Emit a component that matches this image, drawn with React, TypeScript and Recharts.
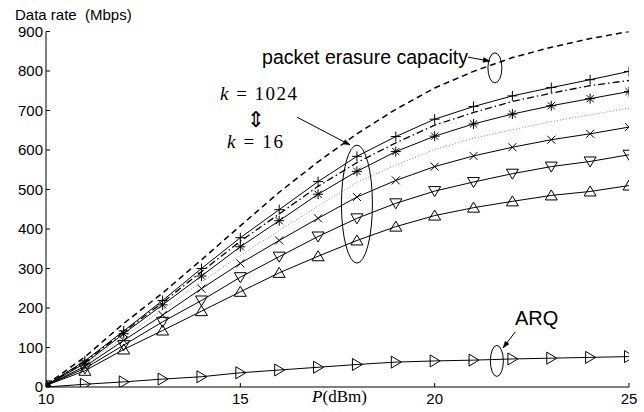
import React from "react";
import { LineChart, Line, XAxis, YAxis, ReferenceDot, ReferenceLine } from "recharts";

// ---- data ----
const powerDbm = [10, 11, 12, 13, 14, 15, 16, 17, 18, 19, 20, 21, 22, 23, 24, 25];
const capacity = [5, 76, 161, 238, 322, 408, 493, 570, 641, 703, 757, 799, 834, 860, 882, 900];
const k1024 = [4, 66, 142, 219, 300, 378, 449, 520, 584, 634, 678, 710, 737, 758, 778, 799];
const kDashDot = [4, 64, 139, 214, 292, 369, 438, 508, 568, 618, 663, 695, 723, 744, 763, 776];
const kStar = [4, 60, 135, 208, 281, 355, 421, 488, 546, 596, 635, 666, 691, 712, 730, 748];
const kDotted = [4, 56, 127, 196, 266, 333, 396, 458, 518, 562, 601, 630, 651, 672, 689, 706];
const kCross = [4, 52, 118, 182, 249, 313, 371, 427, 481, 523, 558, 585, 607, 626, 641, 658];
const kDown = [4, 47, 106, 165, 219, 278, 330, 381, 427, 465, 496, 519, 540, 558, 571, 588];
const k16 = [4, 41, 95, 143, 192, 241, 289, 331, 371, 406, 434, 454, 470, 485, 495, 510];
const arq = [0, 7, 13, 20, 26, 36, 43, 50, 57, 63, 66, 68, 71, 73, 75, 77];

const xTicks = [10, 15, 20, 25];
const yTicks = [0, 100, 200, 300, 400, 500, 600, 700, 800, 900];

// annotation anchors (data coordinates)
const capEllipse = { x: 21.55, y: 808 };
const kEllipse = { x: 18.0, y: 463 };
const arqEllipse = { x: 21.6, y: 66 };
const capArrow = [{ x: 20.86, y: 835 }, { x: 21.42, y: 825 }];
const kArrow = [{ x: 16.46, y: 683 }, { x: 17.82, y: 613 }];
const arqArrow = [{ x: 22.07, y: 139 }, { x: 21.76, y: 99 }];

const rows = powerDbm.map((x, i) => ({
  x,
  capacity: capacity[i],
  k1024: k1024[i],
  kDashDot: kDashDot[i],
  kStar: kStar[i],
  kDotted: kDotted[i],
  kCross: kCross[i],
  kDown: kDown[i],
  k16: k16[i],
  arq: arq[i],
}));

const S = "#000";

const plusDot = (p: any) => (
  <g key={`p${p.index}`} stroke={S} strokeWidth={1}>
    <line x1={p.cx - 5} y1={p.cy} x2={p.cx + 5} y2={p.cy} />
    <line x1={p.cx} y1={p.cy - 5} x2={p.cx} y2={p.cy + 5} />
  </g>
);
const starDot = (p: any) => (
  <g key={`s${p.index}`} stroke={S} strokeWidth={1}>
    <line x1={p.cx - 5} y1={p.cy} x2={p.cx + 5} y2={p.cy} />
    <line x1={p.cx} y1={p.cy - 5} x2={p.cx} y2={p.cy + 5} />
    <line x1={p.cx - 3.6} y1={p.cy - 3.6} x2={p.cx + 3.6} y2={p.cy + 3.6} />
    <line x1={p.cx - 3.6} y1={p.cy + 3.6} x2={p.cx + 3.6} y2={p.cy - 3.6} />
  </g>
);
const crossDot = (p: any) => (
  <g key={`c${p.index}`} stroke={S} strokeWidth={1}>
    <line x1={p.cx - 4} y1={p.cy - 4} x2={p.cx + 4} y2={p.cy + 4} />
    <line x1={p.cx - 4} y1={p.cy + 4} x2={p.cx + 4} y2={p.cy - 4} />
  </g>
);
const downDot = (p: any) => (
  <polygon
    key={`d${p.index}`}
    points={`${p.cx - 6},${p.cy - 4.5} ${p.cx + 6},${p.cy - 4.5} ${p.cx},${p.cy + 5.5}`}
    fill="none"
    stroke={S}
    strokeWidth={1}
  />
);
const upDot = (p: any) => (
  <polygon
    key={`u${p.index}`}
    points={`${p.cx - 6},${p.cy + 4.5} ${p.cx + 6},${p.cy + 4.5} ${p.cx},${p.cy - 5.5}`}
    fill="none"
    stroke={S}
    strokeWidth={1}
  />
);
const rightDot = (p: any) => (
  <polygon
    key={`r${p.index}`}
    points={`${p.cx - 4.5},${p.cy - 6} ${p.cx - 4.5},${p.cy + 6} ${p.cx + 5.5},${p.cy}`}
    fill="none"
    stroke={S}
    strokeWidth={1}
  />
);

const ellipseShape = (rx: number, ry: number) => (p: any) =>
  <ellipse cx={p.cx} cy={p.cy} rx={rx} ry={ry} fill="none" stroke={S} strokeWidth={1} />;

const arrowShape = (p: any) => {
  const { x1, y1, x2, y2 } = p;
  const a = Math.atan2(y2 - y1, x2 - x1);
  const L = 7;
  const w = 0.35;
  const ax = x2 - L * Math.cos(a - w);
  const ay = y2 - L * Math.sin(a - w);
  const bx = x2 - L * Math.cos(a + w);
  const by = y2 - L * Math.sin(a + w);
  return (
    <g>
      <line x1={x1} y1={y1} x2={x2} y2={y2} stroke={S} strokeWidth={1} />
      <polygon points={`${x2},${y2} ${ax},${ay} ${bx},${by}`} fill={S} stroke={S} strokeWidth={0.5} />
    </g>
  );
};

const sans = "'Liberation Sans', Arial, Helvetica, sans-serif";
const serif = "'Liberation Serif', 'Times New Roman', serif";

const XLabel = (props: any) => {
  const vb = props.viewBox || {};
  const cx = vb.x + vb.width / 2;
  return (
    <text x={cx + 2} y={402} textAnchor="middle" fontFamily={serif} fontSize={17} fill={S}>
      <tspan fontStyle="italic">P</tspan>
      <tspan>(dBm)</tspan>
    </text>
  );
};

export default function App() {
  return (
    <div style={{ position: "absolute", left: 0, top: 0, width: 644, height: 412, background: "#fff" }}>
      <LineChart
        width={644}
        height={412}
        data={rows}
        margin={{ top: 31.5, right: 15, bottom: 0, left: 0 }}
      >
        <XAxis
          dataKey="x"
          type="number"
          domain={[10, 25]}
          ticks={xTicks}
          height={25}
          tickSize={-4}
          tickMargin={10}
          stroke={S}
          axisLine={{ stroke: S }}
          tickLine={{ stroke: S }}
          tick={{ fill: S, fontSize: 15, fontFamily: sans }}
          label={<XLabel />}
          allowDataOverflow
        />
        <XAxis
          xAxisId="top"
          dataKey="x"
          type="number"
          orientation="top"
          domain={[10, 25]}
          ticks={xTicks}
          height={0}
          tickSize={-4}
          tick={false}
          axisLine={{ stroke: S }}
          tickLine={{ stroke: S }}
        />
        <YAxis
          type="number"
          domain={[0, 900]}
          ticks={yTicks}
          width={46}
          tickSize={-4}
          tickMargin={7}
          axisLine={{ stroke: S }}
          tickLine={{ stroke: S }}
          tick={{ fill: S, fontSize: 15, fontFamily: sans }}
          allowDataOverflow
        />
        <YAxis
          yAxisId="right"
          orientation="right"
          type="number"
          domain={[0, 900]}
          ticks={yTicks}
          width={0}
          tickSize={-4}
          tick={false}
          axisLine={{ stroke: S }}
          tickLine={{ stroke: S }}
        />
        <Line dataKey="capacity" stroke={S} strokeWidth={1.5} strokeDasharray="6 4" dot={false} isAnimationActive={false} />
        <Line dataKey="kDotted" stroke="#888" strokeWidth={1} strokeDasharray="1 2" dot={false} isAnimationActive={false} />
        <Line dataKey="kDashDot" stroke={S} strokeWidth={1.3} strokeDasharray="7 3 1.5 3" dot={false} isAnimationActive={false} />
        <Line dataKey="k1024" stroke={S} strokeWidth={1} dot={plusDot} isAnimationActive={false} />
        <Line dataKey="kStar" stroke={S} strokeWidth={1} dot={starDot} isAnimationActive={false} />
        <Line dataKey="kCross" stroke={S} strokeWidth={1} dot={crossDot} isAnimationActive={false} />
        <Line dataKey="kDown" stroke={S} strokeWidth={1} dot={downDot} isAnimationActive={false} />
        <Line dataKey="k16" stroke={S} strokeWidth={1} dot={upDot} isAnimationActive={false} />
        <Line dataKey="arq" stroke={S} strokeWidth={1} dot={rightDot} isAnimationActive={false} />

        <ReferenceDot x={capEllipse.x} y={capEllipse.y} shape={ellipseShape(7, 15)} ifOverflow="visible" />
        <ReferenceDot x={kEllipse.x} y={kEllipse.y} shape={ellipseShape(15.5, 59)} ifOverflow="visible" />
        <ReferenceDot x={arqEllipse.x} y={arqEllipse.y} shape={ellipseShape(6.5, 15.5)} ifOverflow="visible" />
        <ReferenceLine segment={capArrow} shape={arrowShape} ifOverflow="visible" />
        <ReferenceLine segment={kArrow} shape={arrowShape} ifOverflow="visible" />
        <ReferenceLine segment={arqArrow} shape={arrowShape} ifOverflow="visible" />
      </LineChart>
      <svg
        width={644}
        height={412}
        style={{ position: "absolute", left: 0, top: 0, pointerEvents: "none" }}
      >
        <text x={15} y={20} fontFamily={sans} fontSize={15} fill={S} style={{ whiteSpace: "pre" }}>
          Data rate  (Mbps)
        </text>
        <text x={468} y={64} textAnchor="end" fontFamily={sans} fontSize={19.5} fill={S}>
          packet erasure capacity
        </text>
        <text x={220} y={100} fontFamily={serif} fontSize={19} fill={S} textLength={77} lengthAdjust="spacing">
          <tspan fontStyle="italic">k</tspan> = 1024
        </text>
        <text x={256} y={127} textAnchor="middle" fontFamily="'Noto Sans CJK JP', 'DejaVu Sans', sans-serif" fontSize={22} fill={S}>
          ⇕
        </text>
        <text x={227} y={148} fontFamily={serif} fontSize={19} fill={S} textLength={56} lengthAdjust="spacing">
          <tspan fontStyle="italic">k</tspan> = 16
        </text>
        <text x={515} y={325} fontFamily={sans} fontSize={20} fill={S}>
          ARQ
        </text>
      </svg>
    </div>
  );
}
